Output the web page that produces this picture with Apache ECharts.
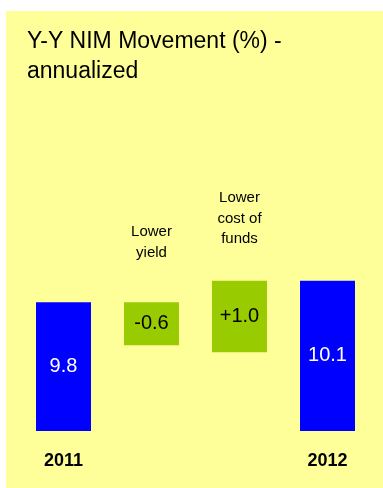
<!DOCTYPE html>
<html>
<head>
<meta charset="utf-8">
<script src="https://cdn.jsdelivr.net/npm/echarts@6/dist/echarts.min.js"></script>
<style>
  html, body { margin: 0; padding: 0; background: #ffffff; }
  #chart { width: 383px; height: 488px; }
</style>
</head>
<body>
<div id="chart"></div>
<script>
// Waterfall of year-over-year net interest margin
const categories = ['2011', '', '', '2012'];
const floorValues = [0, 9.2, 9.1, 0];        // hidden lower part of each bar
const stepValues = [9.8, 0.6, 1.0, 10.1];    // visible bar height
const stepLabels = ['9.8', '-0.6', '+1.0', '10.1'];
const stepKinds = ['total', 'change', 'change', 'total'];
const notes = ['', 'Lower\nyield', 'Lower\ncost of\nfunds', ''];

const BLUE = '#0000FF';
const GREEN = '#99CC00';
const PANEL = '#FFFF99';
const FONT = 'Arial, "Liberation Sans", Helvetica, sans-serif';

const chart = echarts.init(document.getElementById('chart'));

chart.setOption({
  animation: false,
  backgroundColor: '#ffffff',
  title: {
    text: 'Y-Y NIM Movement (%) -\nannualized',
    left: 22,
    top: 22,
    textStyle: { fontFamily: FONT, fontSize: 23, fontWeight: 'normal', color: '#000000', lineHeight: 30 }
  },
  grid: { left: 19.5, right: 11.5, top: 145, bottom: 57 },
  xAxis: {
    type: 'category',
    data: categories,
    axisLine: { show: false },
    axisTick: { show: false },
    axisLabel: { fontFamily: FONT, fontSize: 18, fontWeight: 'bold', color: '#000000', margin: 21 }
  },
  yAxis: {
    type: 'value',
    min: 8,
    max: 12,
    show: false,
    splitLine: { show: false }
  },
  series: [
    {
      type: 'bar',
      stack: 'nim',
      barWidth: 55,
      itemStyle: { color: 'transparent' },
      data: floorValues,
      silent: true
    },
    {
      type: 'bar',
      stack: 'nim',
      barWidth: 55,
      data: stepValues.map((v, i) => ({
        value: v,
        itemStyle: { color: stepKinds[i] === 'total' ? BLUE : GREEN },
        label: { color: stepKinds[i] === 'total' ? '#ffffff' : '#000000' }
      })),
      label: {
        show: true,
        position: 'inside',
        fontFamily: FONT,
        fontSize: 20,
        formatter: p => stepLabels[p.dataIndex]
      }
    }
  ]
});

// Panel background and the explanatory notes above the change bars
const noteTops = [0, 222, 188, 0];
const elements = [{
  type: 'rect',
  shape: { x: 6, y: 11, width: 377, height: 477 },
  style: { fill: PANEL },
  z: -10,
  silent: true
}];
notes.forEach((t, i) => {
  if (!t) return;
  const x = chart.convertToPixel({ xAxisIndex: 0 }, i);
  elements.push({
    type: 'text',
    x: x,
    y: noteTops[i],
    style: {
      text: t,
      fontFamily: FONT,
      fontSize: 15,
      lineHeight: 20.3,
      fill: '#000000',
      align: 'center',
      verticalAlign: 'top'
    },
    silent: true
  });
});
chart.setOption({ graphic: elements });
</script>
</body>
</html>
